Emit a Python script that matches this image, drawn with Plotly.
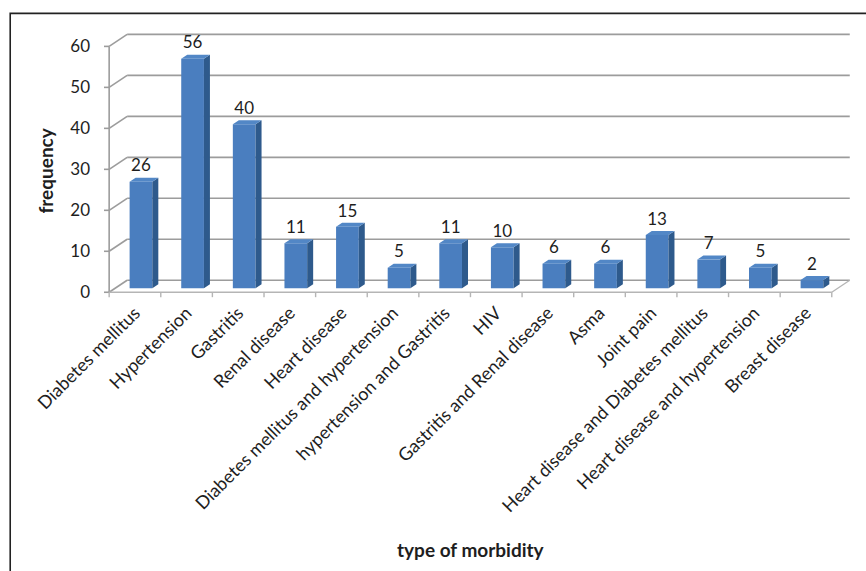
import plotly.graph_objects as go

categories = ["Diabetes mellitus", "Hypertension", "Gastritis", "Renal disease",
              "Heart disease", "Diabetes mellitus and hypertension",
              "hypertension and Gastritis", "HIV", "Gastritis and Renal disease",
              "Asma", "Joint pain", "Heart disease and Diabetes mellitus",
              "Heart disease and hypertension", "Breast disease"]
frequency = [26, 56, 40, 11, 15, 5, 11, 10, 6, 6, 13, 7, 5, 2]
y_ticks = [0, 10, 20, 30, 40, 50, 60]

W, H = 866, 571
SX, SY = 51.64, 4.1          # px per unit
X0, X1 = -0.1, 14.45
Y0, Y1 = -1.4, 64.0
L = 109 - (0 - X0) * SX
PW = (X1 - X0) * SX
R = W - L - PW
B = H - (292 + (0 - Y0) * SY)
PH = (Y1 - Y0) * SY
T = H - B - PH
DX = 18 / SX                 # depth offset in x units
DY = 12 / SY                 # depth offset in y units
BW = 0.44                    # bar width (category units)
FONT = "Lato"
TXT = "#1E1E1E"
n = len(categories)

def px2paper(px, py):
    return (px - L) / PW, (H - py - B) / PH

shapes = []
line_grid = dict(color="#9C9C9C", width=1.6)
line_floor = dict(color="#B5B5B5", width=1.4)
# back wall gridlines + left wall diagonals
for k in y_ticks:
    shapes.append(dict(type="line", xref="x", yref="y", x0=0, y0=k, x1=DX, y1=k + DY,
                       line=line_grid, layer="below"))
    shapes.append(dict(type="line", xref="x", yref="y", x0=DX, y0=k + DY, x1=n + DX, y1=k + DY,
                       line=line_grid, layer="below"))
    shapes.append(dict(type="line", xref="x", yref="y", x0=X0, y0=k, x1=0, y1=k,
                       line=line_grid, layer="below"))
# front vertical edge
shapes.append(dict(type="line", xref="x", yref="y", x0=0, y0=0, x1=0, y1=y_ticks[-1],
                   line=line_grid, layer="below"))
# floor front and right edges
shapes.append(dict(type="line", xref="x", yref="y", x0=0, y0=0, x1=n, y1=0,
                   line=line_floor, layer="below"))
shapes.append(dict(type="line", xref="x", yref="y", x0=n, y0=0, x1=n + DX, y1=DY,
                   line=line_floor, layer="below"))
# x tick marks
for i in range(n + 1):
    shapes.append(dict(type="line", xref="x", yref="y", x0=i, y0=0, x1=i, y1=-1.2,
                       line=line_floor, layer="below"))
# outer frame
fx0, fy0 = px2paper(10, 13)
fx1, fy1 = px2paper(W + 20, H + 20)
shapes.append(dict(type="rect", xref="paper", yref="paper", x0=fx0, y0=fy1, x1=fx1, y1=fy0,
                   line=dict(color="#222222", width=1.6), fillcolor="rgba(0,0,0,0)", layer="above"))

# bar geometry
front_c = [i + 0.5 + DX / 3 for i in range(n)]
base = DY / 3
side_x, side_y, top_x, top_y = [], [], [], []
for c, v in zip(front_c, frequency):
    xl, xr = c - BW / 2, c + BW / 2
    d = DX / 3
    e = DY / 3
    side_x += [xr, xr, xr + d, xr + d, xr, None]
    side_y += [base, base + v, base + v + e, base + e, base, None]
    top_x += [xl, xr, xr + d, xl + d, xl, None]
    top_y += [base + v, base + v, base + v + e, base + v + e, base + v, None]

fig = go.Figure()
fig.add_trace(go.Bar(x=front_c, y=frequency, base=base, width=BW,
                     marker=dict(color="#4A7EBF", line=dict(width=0)), hoverinfo="skip"))
fig.add_trace(go.Scatter(x=side_x, y=side_y, mode="lines", fill="toself",
                         fillcolor="#2E5A8C", line=dict(width=0, color="#2E5A8C"), hoverinfo="skip"))
fig.add_trace(go.Scatter(x=top_x, y=top_y, mode="lines", fill="toself",
                         fillcolor="#5287C6", line=dict(width=0, color="#5287C6"), hoverinfo="skip"))
fig.add_trace(go.Scatter(x=front_c, y=[v + base + DY / 3 + 0.5 for v in frequency],
                         mode="text", text=[str(v) for v in frequency],
                         textposition="top center", cliponaxis=False,
                         textfont=dict(family=FONT, size=17, color=TXT), hoverinfo="skip"))

ax_x, ax_y = px2paper(471, 549)
ay_x, ay_y = px2paper(45, 170)
fig.update_layout(
    width=W, height=H, showlegend=False,
    margin=dict(l=L, r=R, t=T, b=B, pad=0),
    paper_bgcolor="white", plot_bgcolor="white",
    shapes=shapes,
    xaxis=dict(range=[X0, X1], tickmode="array", tickvals=[i + 0.5 for i in range(n)],
               ticktext=categories, tickangle=-45, showgrid=False, zeroline=False,
               showline=False, ticks="", tickfont=dict(family=FONT, size=18, color=TXT)),
    yaxis=dict(range=[Y0, Y1], tickmode="array", tickvals=y_ticks, showgrid=False,
               zeroline=False, showline=False, ticks="", ticklabelstandoff=13,
               tickfont=dict(family=FONT, size=17, color=TXT)),
    annotations=[
        dict(text="<b>type of morbidity</b>", xref="paper", yref="paper", x=ax_x, y=ax_y,
             showarrow=False, xanchor="center", yanchor="middle",
             font=dict(family=FONT, size=19, color=TXT)),
        dict(text="<b>frequency</b>", xref="paper", yref="paper", x=ay_x, y=ay_y,
             showarrow=False, xanchor="center", yanchor="middle", textangle=-90,
             font=dict(family=FONT, size=19, color=TXT)),
    ],
)
fig.write_html("out.html")
